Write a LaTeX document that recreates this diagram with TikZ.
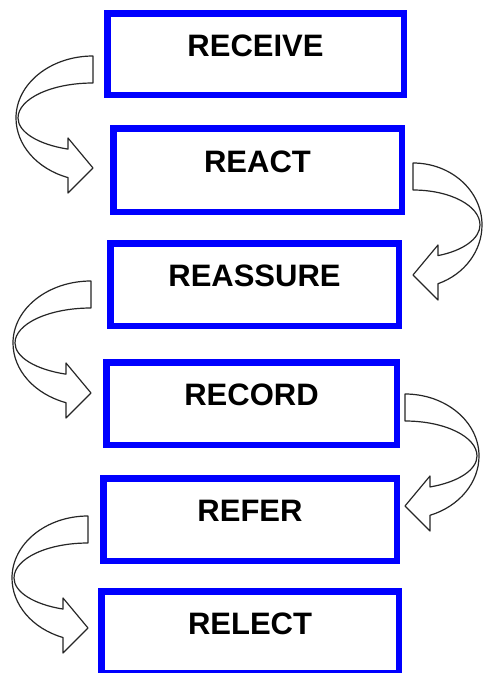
\documentclass[tikz,border=0pt]{standalone}
\usepackage{fontspec}
\setmainfont{Liberation Sans}
\definecolor{boxblue}{RGB}{0,0,255}

% Curved block arrow: #1,#2 tail top corner (px, y down), #3 sweep width,
% #4 = 1 bends out to the right, -1 bends out to the left
\newcommand\curlarrow[4]{%
  \pgfmathsetmacro\curlOut{acos(25/#3)}%
  \pgfmathsetmacro\curlIn{acos(25/(#3-2))}%
  \pgfmathsetmacro\curlBase{-62-33*sin(\curlIn)}%
  \pgfmathsetmacro\curlInR{#3-2}%
  \begin{scope}[shift={(#1,-#2)},xscale=#4]
    \filldraw[curl] (0,0)
      arc[start angle=90,end angle=0,x radius=#3,y radius=62]
      arc[start angle=0,end angle=-\curlOut,x radius=#3,y radius=63]
      -- (25,-137) -- (0,-112) -- (25,-82) -- (25,\curlBase)
      arc[start angle=-\curlIn,end angle=0,x radius=\curlInR,y radius=33]
      arc[start angle=0,end angle=90,x radius=\curlInR,y radius=35]
      -- cycle;
  \end{scope}}

\tikzset{
  stagebox/.style={draw=boxblue, line width=6.5pt, fill=white, inner sep=0pt,
    font=\bfseries\fontsize{31}{31}\selectfont,
    text height=22pt, text depth=18pt},
  curl/.style={draw=black!85, fill=white, line width=1.2pt, line join=round}
}

\begin{document}
\begin{tikzpicture}[x=1pt,y=1pt]
  \clip (0,0) rectangle (483,-673);
  \fill[white] (0,0) rectangle (483,-673);

  \node[stagebox, minimum width=296.5pt, minimum height=81.5pt] (receive)  at (255.5,-54)   {RECEIVE};
  \node[stagebox, minimum width=288.5pt, minimum height=83.5pt] (react)    at (257.5,-170)  {REACT};
  \node[stagebox, minimum width=288.5pt, minimum height=82.5pt] (reassure) at (254.5,-284.5) {REASSURE};
  \node[stagebox, minimum width=290.5pt, minimum height=82.5pt] (record)   at (251.5,-403.5) {RECORD};
  \node[stagebox, minimum width=293.5pt, minimum height=82.5pt] (refer)    at (250,-519.5)  {REFER};
  \node[stagebox, minimum width=297.5pt, minimum height=81.5pt] (relect)   at (250,-632)    {RELECT};

  \curlarrow{93}{56}{77}{-1}
  \curlarrow{413}{163}{69}{1}
  \curlarrow{91}{281}{78}{-1}
  \curlarrow{405}{394}{74}{1}
  \curlarrow{88}{516}{76}{-1}
\end{tikzpicture}
\end{document}
